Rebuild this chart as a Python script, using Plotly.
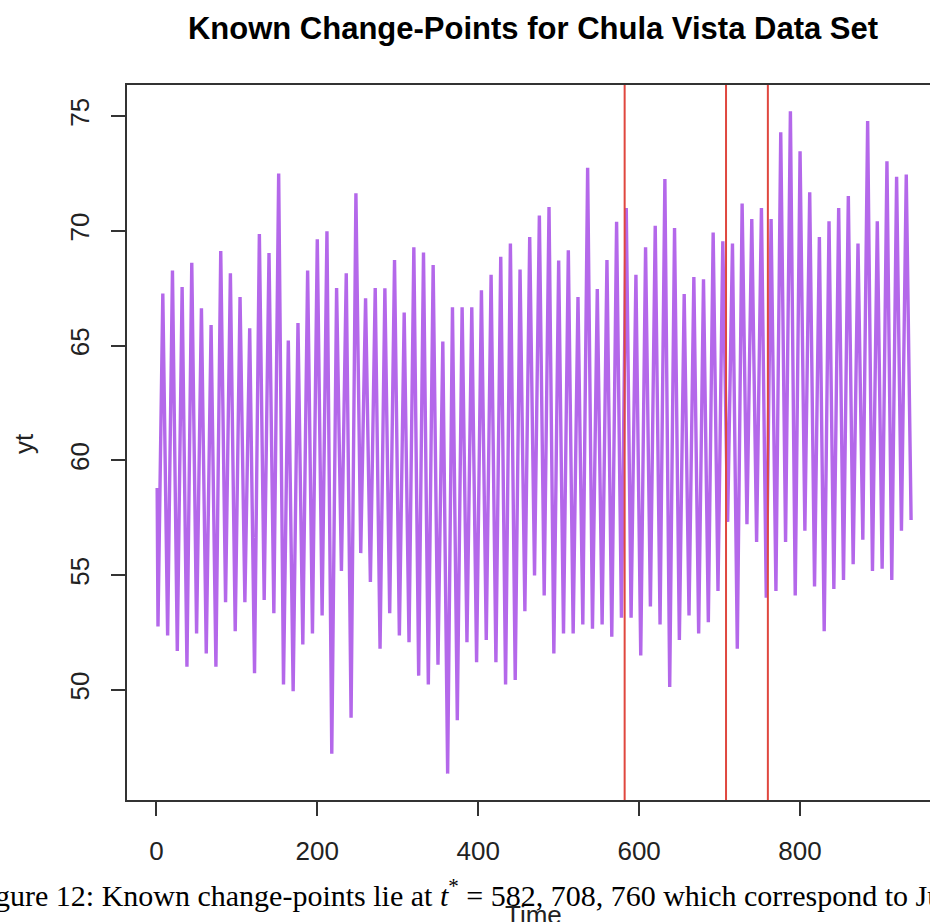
import plotly.graph_objects as go

# ---- data (monthly series, turning points) ----
start_t, start_v = 1, 58.8
end_t, end_v = 938, 57.4

trough_t = [2, 14, 26, 38, 50, 62, 74, 86, 98, 110, 122, 134, 146, 158, 170, 182,
            194, 206, 218, 230, 242, 254, 266, 278, 290, 302, 314, 326, 338, 350,
            362, 374, 386, 398, 410, 422, 434, 446, 458, 470, 482, 494, 506, 518,
            530, 542, 554, 566, 578, 590, 602, 614, 626, 638, 650, 662, 674, 686,
            698, 710, 722, 734, 746, 758, 770, 782, 794, 806, 818, 830, 842, 854,
            866, 878, 890, 902, 914, 926]
trough_v = [52.76, 52.37, 51.69, 51.01, 52.46, 51.59, 51.01, 53.82, 52.56, 53.82,
            50.72, 53.92, 53.34, 50.23, 49.94, 51.98, 52.46, 53.24, 47.22, 55.18,
            48.78, 55.96, 54.70, 51.79, 53.34, 52.37, 52.08, 50.62, 50.23, 51.10,
            46.35, 48.68, 52.08, 51.20, 52.17, 51.20, 50.23, 50.43, 53.43, 54.99,
            54.11, 51.59, 52.46, 52.46, 52.85, 52.66, 52.85, 52.32, 53.14, 53.14,
            51.50, 53.63, 52.85, 50.13, 52.17, 53.24, 52.46, 52.95, 54.31, 57.32,
            51.79, 57.22, 56.44, 54.02, 54.31, 56.44, 54.11, 56.93, 54.50, 52.56,
            54.40, 54.79, 55.47, 56.54, 55.18, 55.28, 54.79, 56.93]

peak_t = [8, 20, 32, 44, 56, 68, 80, 92, 104, 116, 128, 140, 152, 164, 176, 188,
          200, 212, 224, 236, 248, 260, 272, 284, 296, 308, 320, 332, 344, 356,
          368, 380, 392, 404, 416, 428, 440, 452, 464, 476, 488, 500, 512, 524,
          536, 548, 560, 572, 584, 596, 608, 620, 632, 644, 656, 668, 680, 692,
          704, 716, 728, 740, 752, 764, 776, 788, 800, 812, 824, 836, 848, 860,
          872, 884, 896, 908, 920, 932]
peak_v = [67.27, 68.28, 67.56, 68.61, 66.63, 65.90, 69.12, 68.15, 67.12, 65.76,
          69.87, 69.04, 72.50, 65.22, 65.99, 68.28, 69.64, 69.99, 67.51, 68.15,
          71.64, 67.06, 67.51, 67.50, 68.73, 66.44, 69.29, 69.06, 68.52, 65.18,
          66.67, 66.67, 66.67, 67.41, 68.09, 68.87, 69.45, 68.32, 69.74, 70.67,
          71.04, 68.71, 69.16, 67.12, 72.75, 67.47, 68.73, 70.40, 71.00, 68.09,
          69.29, 70.22, 72.26, 70.13, 67.25, 67.99, 67.89, 69.93, 69.55, 69.45,
          71.19, 70.52, 71.00, 70.52, 74.30, 75.21, 73.47, 71.68, 69.74, 70.42,
          71.00, 71.52, 69.45, 74.79, 70.42, 73.04, 72.36, 72.46]

change_points = [582, 708, 760]

x_ticks = [0, 200, 400, 600, 800]
y_ticks = [50, 55, 60, 65, 70, 75]

title_text = "Known Change-Points for Chula Vista Data Set"
x_label = "Time"
y_label = "yt"
caption = ("Figure 12: Known change-points lie at <i>t</i><sup>*</sup> = 582, 708, 760 "
           "which correspond to June")

# ---- assemble series ----
pts = [(start_t, start_v)] + list(zip(trough_t, trough_v)) + list(zip(peak_t, peak_v)) + [(end_t, end_v)]
pts.sort(key=lambda p: p[0])
xs = [p[0] for p in pts]
ys = [p[1] for p in pts]

W, H = 930, 922
L, R, T, B = 127, 0, 85, 122
pw, ph = W - L - R, H - T - B

def px_x(px):
    return (px - L) / pw

def px_y(py):
    return (H - B - py) / ph

fig = go.Figure()
fig.add_trace(go.Scatter(x=xs, y=ys, mode="lines",
                         line=dict(color="#B468EA", width=3.4),
                         hoverinfo="skip", showlegend=False))

shapes = []
for cp in change_points:
    shapes.append(dict(type="line", xref="x", yref="paper", x0=cp, x1=cp, y0=0, y1=1,
                       line=dict(color="#E0473F", width=2)))

font_sans = "Liberation Sans, Arial, Helvetica, sans-serif"

annotations = [
    dict(text=y_label, xref="paper", yref="paper", x=px_x(24), y=px_y(443),
         showarrow=False, textangle=-90, xanchor="center", yanchor="middle",
         font=dict(family=font_sans, size=26, color="#222")),
    dict(text=x_label, xref="paper", yref="paper", x=px_x(533), y=px_y(915),
         showarrow=False, xanchor="center", yanchor="middle",
         font=dict(family=font_sans, size=26, color="#222")),
    dict(text=caption, xref="paper", yref="paper", x=px_x(-32), y=px_y(893),
         showarrow=False, xanchor="left", yanchor="middle",
         font=dict(family="Liberation Serif, Times New Roman, serif", size=30, color="#000")),
]

fig.update_layout(
    width=W, height=H,
    margin=dict(l=L, r=R, t=T, b=B, pad=0),
    paper_bgcolor="white", plot_bgcolor="white",
    title=dict(text="<b>" + title_text + "</b>", xref="container", yref="container",
               x=533 / W, y=1 - 28 / H, xanchor="center", yanchor="middle",
               font=dict(family=font_sans, size=31, color="#000")),
    xaxis=dict(range=[-36.5, 961.5], tickvals=x_ticks, ticktext=[str(v) for v in x_ticks],
               showgrid=False, zeroline=False, showline=True, mirror=True,
               linecolor="#333", linewidth=1.6, ticks="outside", ticklen=14,
               tickwidth=1.5, tickcolor="#333", ticklabelstandoff=13,
               tickfont=dict(family=font_sans, size=26, color="#222")),
    yaxis=dict(range=[45.2, 76.36], tickvals=y_ticks, ticktext=[str(v) for v in y_ticks],
               showgrid=False, zeroline=False, showline=True, mirror=False,
               linecolor="#333", linewidth=1.6, ticks="outside", ticklen=14,
               tickwidth=1.5, tickcolor="#333", tickangle=-90, ticklabelstandoff=12,
               tickfont=dict(family=font_sans, size=26, color="#222")),
    shapes=shapes,
    annotations=annotations,
)

fig.write_html("out.html")
